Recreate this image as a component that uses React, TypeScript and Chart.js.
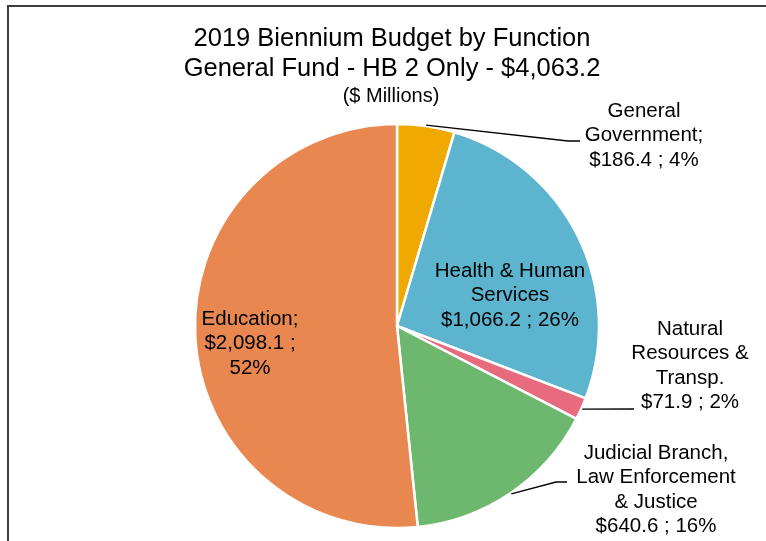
import { useEffect, useRef } from "react";
import { Chart, registerables } from "chart.js";

Chart.register(...registerables);

// Budget by function, $ millions
const categories = [
  "General Government",
  "Health & Human Services",
  "Natural Resources & Transp.",
  "Judicial Branch, Law Enforcement & Justice",
  "Education",
];
const budgetMillions = [186.4, 1066.2, 71.9, 640.6, 2098.1];
const sharePercent = [4, 26, 2, 16, 52];
const sliceColors = ["#F0A900", "#5DB4CE", "#E86B7D", "#6DB86E", "#E8874F"];

// Wrapped name lines for each slice label
const labelNameLines = [
  ["General", "Government;"],
  ["Health & Human", "Services"],
  ["Natural", "Resources &", "Transp."],
  ["Judicial Branch,", "Law Enforcement", "& Justice"],
  ["Education;"],
];
// Whether the value and percent go on separate lines
const splitValueLine = [false, false, false, false, true];

const titleLines = ["2019 Biennium Budget by Function", "General Fund - HB 2 Only - $4,063.2"];
const subtitleText = "($ Millions)";

// Label placement: top line centre, optional leader elbow points
const labelLayout: { x: number; y: number; leader?: number[][] }[] = [
  { x: 644, y: 111, leader: [[568, 141], [580, 141]] },
  { x: 510, y: 271 },
  { x: 690, y: 329, leader: [[634, 409]] },
  { x: 656, y: 453, leader: [[556, 482], [567, 482]] },
  { x: 250, y: 319 },
];

const FONT = '"Liberation Sans", Arial, Helvetica, sans-serif';

const money = (v: number) =>
  "$" + v.toLocaleString("en-US", { minimumFractionDigits: 1, maximumFractionDigits: 1 });

const labelLines = (i: number): string[] => {
  const val = money(budgetMillions[i]);
  const pct = `${sharePercent[i]}%`;
  return splitValueLine[i]
    ? [...labelNameLines[i], `${val} ;`, pct]
    : [...labelNameLines[i], `${val} ; ${pct}`];
};

const decorPlugin = {
  id: "decor",
  beforeDraw(chart: any) {
    const { ctx, width, height } = chart;
    ctx.save();
    ctx.strokeStyle = "#3c3c3c";
    ctx.lineWidth = 2;
    ctx.beginPath();
    ctx.moveTo(8, height + 2);
    ctx.lineTo(8, 6);
    ctx.lineTo(width + 2, 6);
    ctx.stroke();
    ctx.restore();
  },
  afterDraw(chart: any) {
    const { ctx } = chart;
    ctx.save();
    ctx.fillStyle = "#000";
    ctx.textAlign = "center";
    ctx.textBaseline = "middle";

    // Titles
    ctx.font = `25.5px ${FONT}`;
    ctx.fillText(titleLines[0], 392, 39);
    ctx.fillText(titleLines[1], 392, 69);
    ctx.font = `20px ${FONT}`;
    ctx.fillText(subtitleText, 391, 96);

    // Slice labels and leader lines
    const meta = chart.getDatasetMeta(0);
    ctx.font = `20.5px ${FONT}`;
    meta.data.forEach((arc: any, i: number) => {
      const lay = labelLayout[i];
      const lines = labelLines(i);
      lines.forEach((t, k) => ctx.fillText(t, lay.x, lay.y + k * 24.5));
      if (lay.leader) {
        const mid = (arc.startAngle + arc.endAngle) / 2;
        const r = arc.outerRadius + 1;
        ctx.strokeStyle = "#000";
        ctx.lineWidth = 1.3;
        ctx.beginPath();
        ctx.moveTo(arc.x + Math.cos(mid) * r, arc.y + Math.sin(mid) * r);
        lay.leader.forEach(([px, py]) => ctx.lineTo(px, py));
        ctx.stroke();
      }
    });
    ctx.restore();
  },
};

export default function App() {
  const canvasRef = useRef<HTMLCanvasElement | null>(null);

  useEffect(() => {
    if (!canvasRef.current) return;
    const chart = new Chart(canvasRef.current, {
      type: "pie",
      data: {
        labels: categories,
        datasets: [
          {
            data: budgetMillions,
            backgroundColor: sliceColors,
            borderColor: "#ffffff",
            borderWidth: 2.5,
          },
        ],
      },
      options: {
        animation: false,
        responsive: false,
        radius: 202,
        layout: { padding: { left: 128, right: 100, top: 120, bottom: 9 } },
        plugins: {
          legend: { display: false },
          title: { display: false },
          tooltip: { enabled: false },
        },
      } as any,
      plugins: [decorPlugin],
    });
    return () => chart.destroy();
  }, []);

  return (
    <div style={{ position: "absolute", left: 0, top: 0, width: 766, height: 541, background: "#fff" }}>
      <canvas ref={canvasRef} width={766} height={541} />
    </div>
  );
}
